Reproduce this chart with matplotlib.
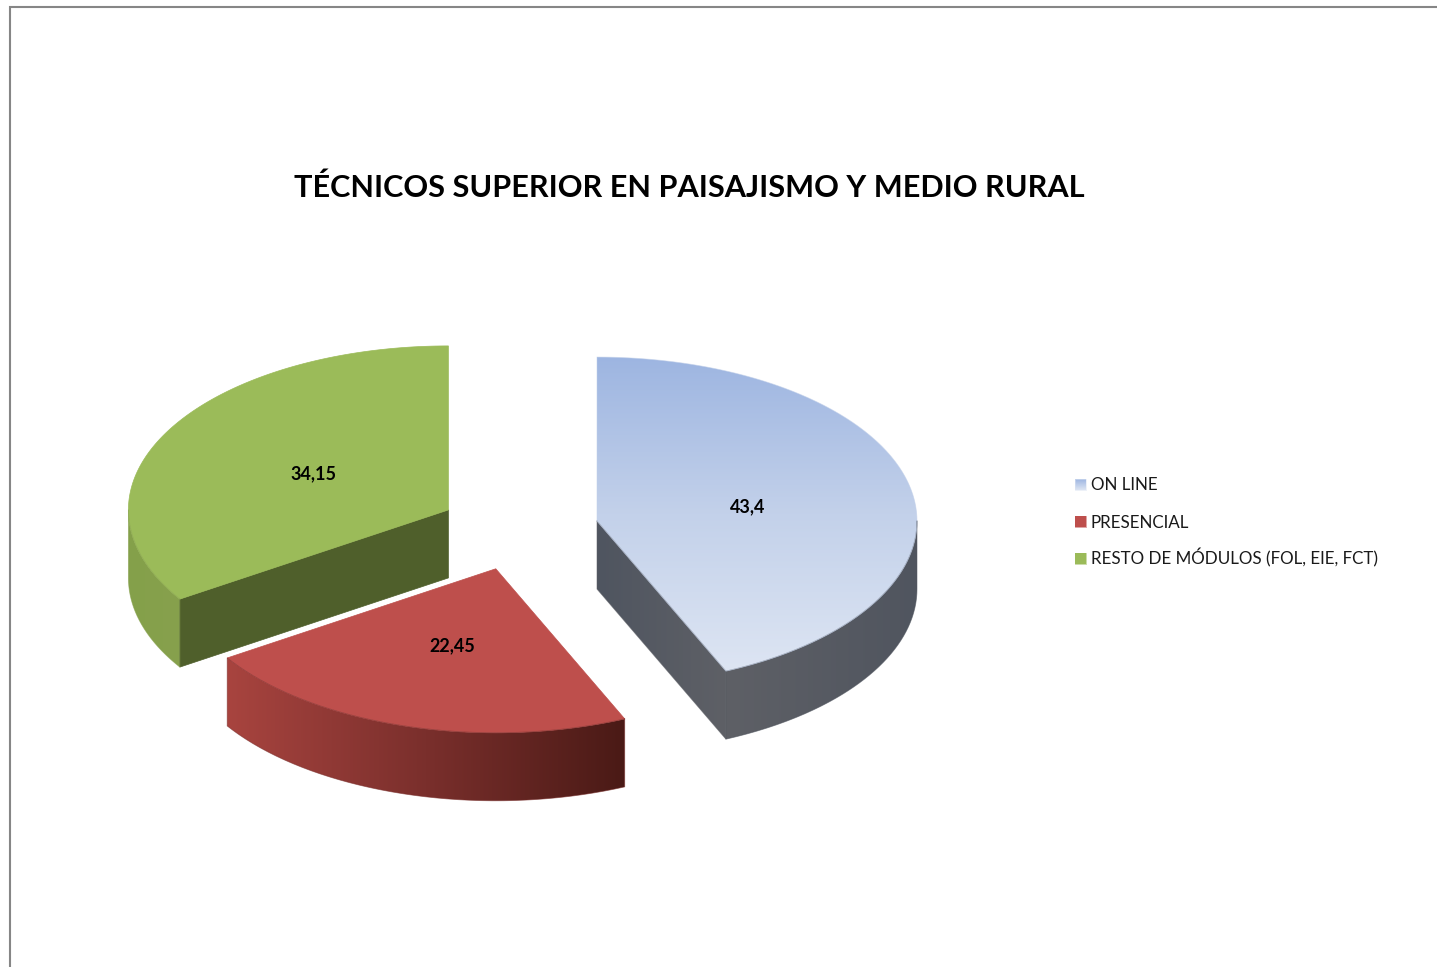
import numpy as np
import matplotlib
matplotlib.use("Agg")
import matplotlib.pyplot as plt
from matplotlib.patches import Polygon
from matplotlib.colors import LinearSegmentedColormap as LSC

title = "TÉCNICOS SUPERIOR EN PAISAJISMO Y MEDIO RURAL"
categories = ["ON LINE", "PRESENCIAL", "RESTO DE MÓDULOS (FOL, EIE, FCT)"]
values = [43.4, 22.45, 34.15]
explode = 0.25

W, H = 1437, 967
CX, CY, A, B, DEPTH = 518.7, 529.5, 320, 164, 68
plt.rcParams['font.family'] = ['Lato', 'DejaVu Sans']

fig = plt.figure(figsize=(W / 100, H / 100), dpi=100, facecolor='white')
ax = fig.add_axes([0, 0, 1, 1])
ax.axis('off')


def pt(c, t, f=1.0):
    return c[0] + A * f * np.sin(t), c[1] - B * f * np.cos(t)


def arc(c, t0, t1, n=160):
    t = np.linspace(t0, t1, n)
    return np.column_stack(pt(c, t))


def grad(verts, stops, vertical=False):
    poly = Polygon(verts, closed=True, fc='none', ec='none')
    ax.add_patch(poly)
    x0, y0 = verts.min(0)
    x1, y1 = verts.max(0)
    cm = LSC.from_list('g', stops)
    arr = np.linspace(0, 1, 256)
    arr = arr[:, None] if vertical else arr[None, :]
    im = ax.imshow(arr, cmap=cm, extent=[x0, x1, y1, y0], aspect='auto',
                   interpolation='bilinear', zorder=poly.get_zorder())
    im.set_clip_path(poly)
    # soft edge, so the clipped gradient is not jagged
    ax.plot(*np.vstack([verts, verts[0]]).T, color=stops[len(stops) // 2],
            lw=0.6, alpha=0.6, solid_joinstyle='round')


def side_poly(c, t0, t1):
    top = arc(c, t0, t1)
    return np.vstack([top, (top + [0, DEPTH])[::-1]])


fr = np.array(values) / sum(values)
edges = np.concatenate([[0], np.cumsum(fr)]) * 2 * np.pi
mids = (edges[:-1] + edges[1:]) / 2
centers = [pt((CX, CY), m, explode) for m in mids]
lab_pos = [pt(c, m, 0.48) for c, m in zip(centers, mids)]
labels = [f"{v:g}".replace('.', ',') for v in values]

# ---- green slice
c = centers[2]
t0, t1 = edges[2], edges[3]
grad(side_poly(c, t0, 1.5 * np.pi), ['#84A04A', '#87A14D'])
p = np.array([pt(c, t0), c])
ax.add_patch(Polygon(np.vstack([p, (p + [0, DEPTH])[::-1]]), fc='#4F5F2B', ec='#4F5F2B', lw=0.5))
ax.add_patch(Polygon(np.vstack([[c], arc(c, t0, t1)]), fc='#9BBB59', ec='#9BBB59', lw=0.5))

# ---- red slice
c = centers[1]
t0, t1 = edges[1], edges[2]
grad(side_poly(c, t0, t1), ['#A8443F', '#7A2F2C', '#4A1A16'])
ax.add_patch(Polygon(np.vstack([[c], arc(c, t0, t1)]), fc='#BE4F4C', ec='#BE4F4C', lw=0.5))

# ---- blue slice
c = centers[0]
t0, t1 = edges[0], edges[1]
p = np.array([c, pt(c, t1)])
grad(np.vstack([p, (p + [0, DEPTH])[::-1]]), ['#4F5560', '#5E6066'])
grad(side_poly(c, t0 + 0.5 * np.pi, t1), ['#5E6066', '#50555F'])
grad(np.vstack([[c], arc(c, t0, t1)]), ['#9DB5E1', '#C3D1EA', '#DDE5F3'], vertical=True)

# labels
for (x, y), s in zip(lab_pos, labels):
    ax.text(x, y + 1.5, s, ha='center', va='center', fontsize=13, fontweight='bold', color='black')

ax.text(689, 197, title, ha='center', va='baseline', fontsize=22.1, fontweight='bold', color='black')

# frame
ax.plot([10, 10, W], [H, 7, 7], color='#868686', lw=1.5, solid_joinstyle='miter')

# legend
swatch = [['#9DB5E1', '#DDE5F3'], ['#BE4F4C', '#BE4F4C'], ['#9BBB59', '#9BBB59']]
for i, (name, cols) in enumerate(zip(categories, swatch)):
    y = 484.5 + 37 * i
    grad(np.array([[1075, y - 5.5], [1086, y - 5.5], [1086, y + 5.5], [1075, y + 5.5]]), cols, vertical=True)
    ax.text(1091, y + 6, name, ha='left', va='baseline', fontsize=12.25, color='#1a1a1a')
ax.set_xlim(0, W)
ax.set_ylim(H, 0)

fig.savefig('out.png', dpi=100)
